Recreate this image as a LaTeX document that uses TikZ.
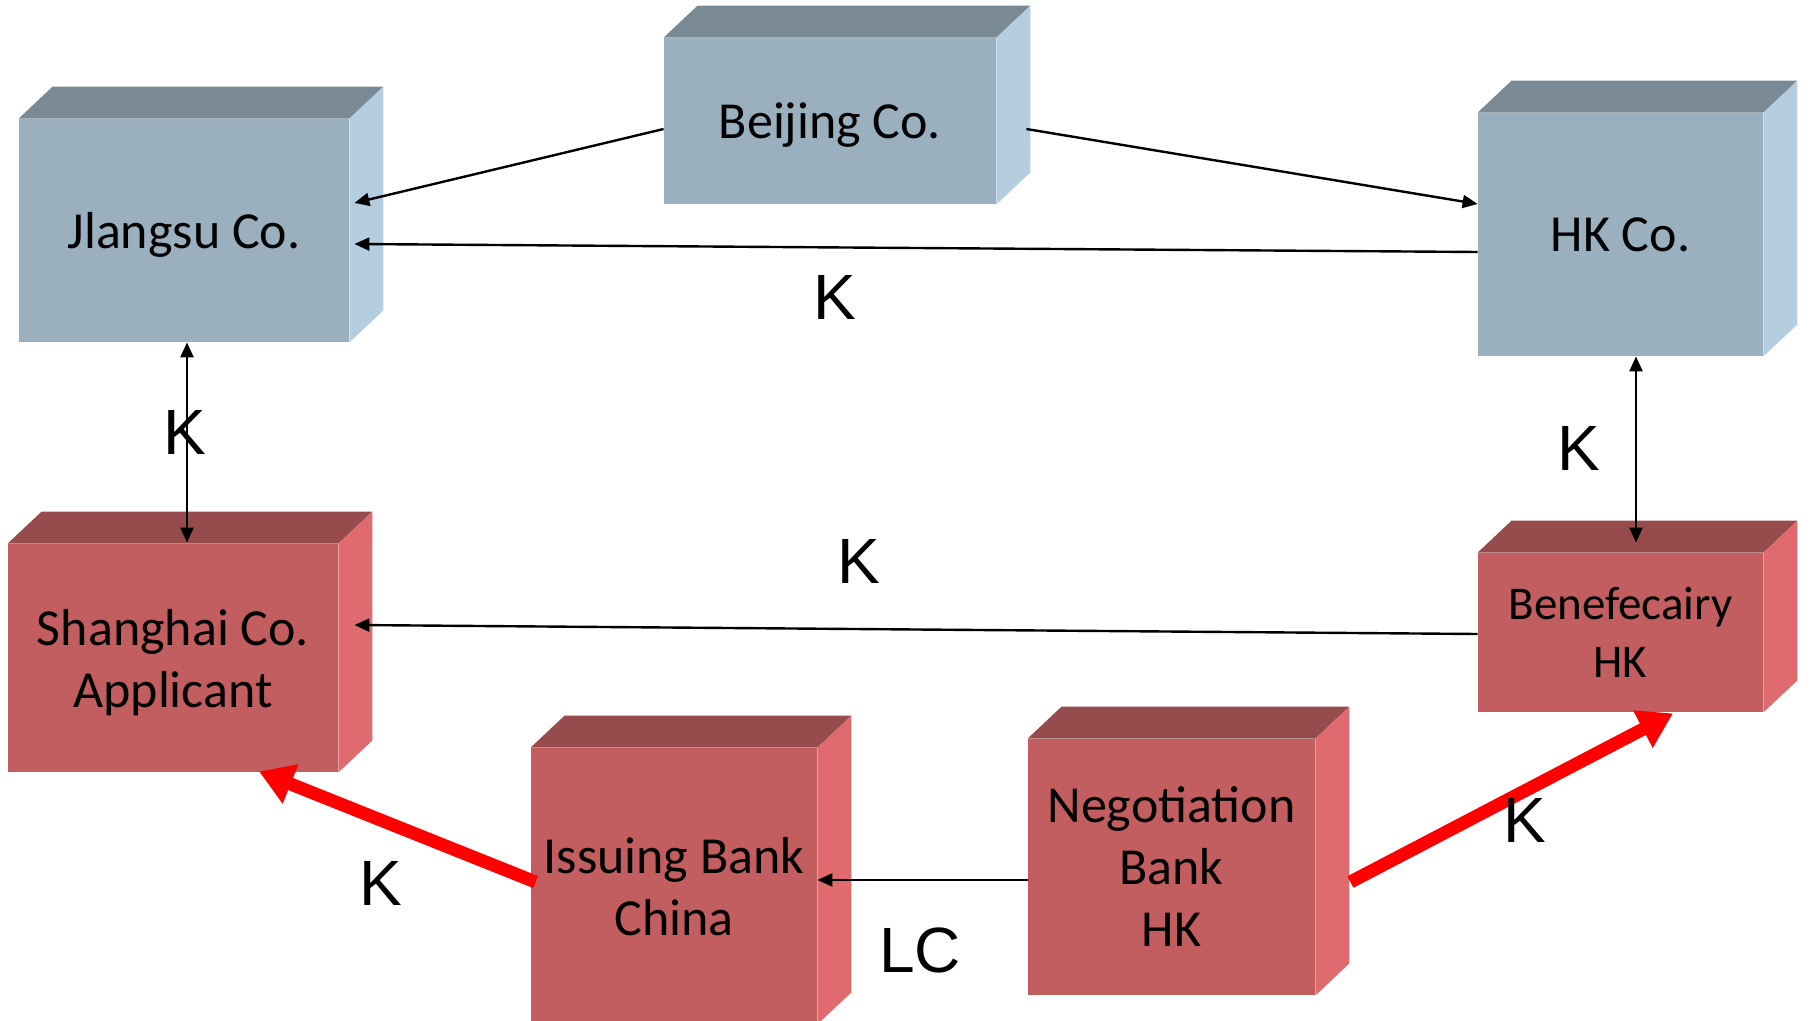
\documentclass[tikz,border=0pt]{standalone}
\usepackage{fontspec}
\setmainfont{Carlito}
\newfontfamily\labelfont{Liberation Sans}
\usetikzlibrary{arrows.meta, calc}
\definecolor{bluefront}{RGB}{155,176,191}
\definecolor{bluetop}{RGB}{122,138,149}
\definecolor{blueside}{RGB}{180,206,224}
\definecolor{redfront}{RGB}{194,94,95}
\definecolor{redtop}{RGB}{150,75,76}
\definecolor{redside}{RGB}{224,107,110}

\begin{document}
\begin{tikzpicture}[
        x=0.5pt, y=-0.5pt,
        box/.style={rectangle, inner sep=0pt, text depth=0pt, align=center, font=\fontsize{26}{31}\selectfont},
        bluebox/.style={box, fill=bluefront},
        redbox/.style={box, fill=redfront},
        klabel/.style={font=\labelfont\fontsize{32}{38}\selectfont},
        arrow/.style={-{Triangle[length=7.5pt, width=6.5pt]}, line width=1.2pt},
        twoway/.style={{Triangle[length=7.5pt, width=6.5pt]}-{Triangle[length=7.5pt, width=6.5pt]}, line width=1.2pt},
        redarrow/.style={-{Triangle[length=17pt, width=20pt]}, line width=6.5pt, red}
    ]
        \useasboundingbox (0,0) rectangle (1810,1021);

        \node[bluebox, minimum width=165pt, minimum height=111.5pt] (jiangsu) at (184,230.5) {Jlangsu Co.};
        \node[bluebox, minimum width=166pt, minimum height=83pt] (beijing) at (830,121) {Beijing Co.};
        \node[bluebox, minimum width=142.5pt, minimum height=121.5pt] (hk) at (1620.5,234.5) {HK Co.};
        \node[redbox, minimum width=165pt, minimum height=114pt] (shanghai) at (173,658) {Shanghai Co.\\Applicant};
        \node[redbox, minimum width=142.5pt, minimum height=79.5pt, font=\fontsize{23.5}{29}\selectfont] (bene) at (1620.5,632.5) {Benefecairy\\HK};
        \node[redbox, minimum width=143pt, minimum height=138pt] (issuing) at (674,886) {Issuing Bank\\China};
        \node[redbox, minimum width=143.5pt, minimum height=128pt] (nego) at (1171.5,867) {Negotiation\\Bank\\HK};

        % top and side faces of the boxes
        \foreach \n/\t/\s in {jiangsu/bluetop/blueside, beijing/bluetop/blueside, hk/bluetop/blueside,
                shanghai/redtop/redside, bene/redtop/redside, issuing/redtop/redside, nego/redtop/redside} {
            \fill[\t] (\n.north west) -- ++(34,-32) -- ($(\n.north east)+(34,-32)$) -- (\n.north east) -- cycle;
            \fill[\s] (\n.north east) -- ++(34,-32) -- ($(\n.south east)+(34,-32)$) -- (\n.south east) -- cycle;
        }

        \draw[arrow] ([yshift=-4pt]beijing.west) -- ([xshift=2.5pt, yshift=13.75pt]jiangsu.east);
        \draw[arrow] ([xshift=15pt, yshift=-4pt]beijing.east) -- ([yshift=15.25pt]hk.west);
        \draw[arrow] ([yshift=-8.75pt]hk.west) -- ([xshift=2.5pt, yshift=-6.75pt]jiangsu.east);
        \draw[twoway] ([xshift=1.5pt]jiangsu.south) -- ([xshift=7pt, yshift=0.5pt]shanghai.north);
        \draw[twoway] ([xshift=7.75pt]hk.south) -- ([xshift=7.75pt, yshift=5pt]bene.north);
        \draw[arrow] ([yshift=-0.75pt]bene.west) -- ([xshift=8pt, yshift=16.5pt]shanghai.east);
        \draw[arrow] ([yshift=-6.5pt]nego.west) -- ([yshift=3pt]issuing.east);
        \draw[redarrow] ([xshift=2.5pt, yshift=2pt]issuing.west) -- ([xshift=43pt, yshift=0.5pt]shanghai.south);
        \draw[redarrow] ([xshift=17.5pt, yshift=-7.5pt]nego.east) -- ([xshift=26.25pt, yshift=-0.5pt]bene.south);

        \node[klabel] (khk) at (835,297) {K};
        \node[klabel] (kjiangsu) at (185,432) {K};
        \node[klabel] (kbene) at (1579,448) {K};
        \node[klabel] (kshanghai) at (859,561) {K};
        \node[klabel] (kissuing) at (381,883) {K};
        \node[klabel] (knego) at (1525,820) {K};
        \node[klabel] (lc) at (920,950) {LC};
    \end{tikzpicture}
\end{document}
